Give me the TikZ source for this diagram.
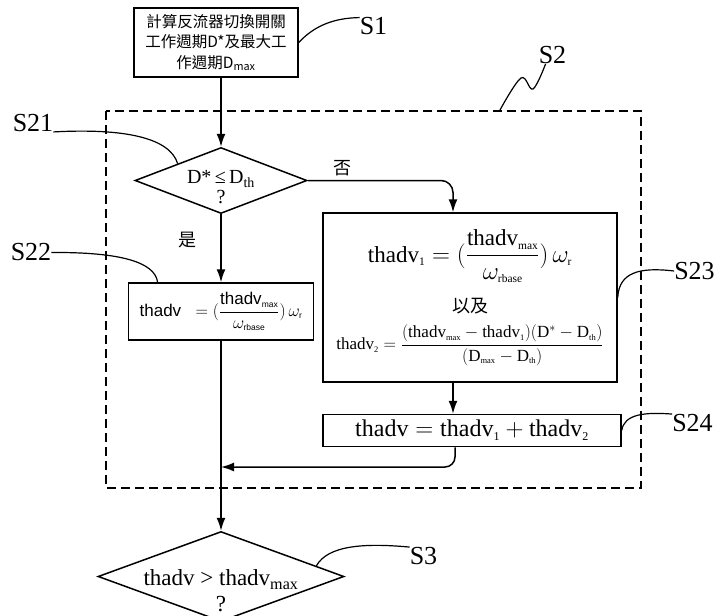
\documentclass[tikz,border=0pt]{standalone}
\usepackage{amsmath}
\usepackage{fontspec}
\setmainfont{Liberation Serif}
\newfontfamily\cjk{Noto Sans CJK TC}
\newfontfamily\sansfont{Liberation Sans}
\usepackage{tikz}
\usetikzlibrary{
    arrows.meta,
    positioning,
    shapes.geometric,
    calc
}
\newcommand{\lo}[1]{_{\scriptscriptstyle\text{#1}}}

\begin{document}
\begin{tikzpicture}[
    x=1pt, y=-1pt,
    box/.style={
        draw,
        line width=1.5pt,
        inner sep=0pt,
        align=center
    },
    decision/.style={
        draw,
        diamond,
        line width=1.5pt,
        inner sep=0pt
    },
    qtext/.style={
        align=center,
        inner sep=0pt,
        font=\fontsize{20}{20}\selectfont
    },
    flow/.style={-{Latex[length=13pt, width=9pt]}, line width=1.5pt},
    lead/.style={line width=1.2pt},
    group/.style={line width=1.2pt, dash pattern=on 9pt off 5pt},
    steplbl/.style={inner sep=0pt, font=\fontsize{26}{26}\selectfont},
    yesno/.style={inner sep=0pt, font=\cjk\fontsize{18}{18}\selectfont}
]

\useasboundingbox (0,0) rectangle (718,616);

\node[box, minimum width=164pt, minimum height=69pt,
font=\cjk\fontsize{15.5}{20.5}\selectfont] (calc) at (216,42.5)
{計算反流器切換開關\\工作週期D*及最大工\\作週期D\textsubscript{max}};

\node[decision, minimum width=172pt, minimum height=66pt,
below=69pt of calc, xshift=5pt,
label={[qtext, yshift=-7pt]center:{D*\,≤\,D\textsubscript{th}\\?}}] (cmp) {};

\node[box, minimum width=185pt, minimum height=57pt,
below=68pt of cmp, font=\sansfont\fontsize{17}{19}\selectfont] (fixed)
{$\text{thadv}\;\; = (\dfrac{\text{thadv}\lo{max}}{\omega\lo{rbase}})\,\omega\lo{r}$};

\node[box, minimum width=294pt, minimum height=169pt] (split) at (470,297.5)
{{\fontsize{23}{26}\selectfont
$\text{thadv}\lo{1} = (\dfrac{\text{thadv}\lo{max}}{\omega\lo{rbase}})\,\omega\lo{r}$}\\[14pt]
{\cjk\fontsize{18}{20}\selectfont 以及}\\[10pt]
{\fontsize{17}{20}\selectfont
$\text{thadv}\lo{2} = \dfrac{(\text{thadv}\lo{max} - \text{thadv}\lo{1})(\text{D}^{*} - \text{D}\lo{th})}{(\text{D}\lo{max} - \text{D}\lo{th})}$}};

\node[box, minimum width=298pt, minimum height=32pt,
below=31pt of split, xshift=2pt, font=\fontsize{24}{24}\selectfont] (sum)
{$\text{thadv} = \text{thadv}\lo{1} + \text{thadv}\lo{2}$};

\node[decision, minimum width=246pt, minimum height=90pt,
below=190pt of fixed,
label={[qtext, font=\fontsize{23}{26}\selectfont, yshift=-14pt]center:{thadv > thadv\textsubscript{max}\\?}}] (limit) {};

\draw[group] (106,111) rectangle (641,488);

\node[steplbl] (tagS1) at (373.5,26.5) {S1};
\node[steplbl] (tagS2) at (552.5,55) {S2};
\node[steplbl] (tagS21) at (33,123) {S21};
\node[steplbl] (tagS22) at (31,252.5) {S22};
\node[steplbl] (tagS23) at (694.5,271) {S23};
\node[steplbl] (tagS24) at (692.5,423) {S24};
\node[steplbl] (tagS3) at (423.5,556) {S3};

\coordinate (noTop) at ([xshift=-17pt]split.north);
\coordinate (noBot) at ([xshift=-17pt]split.south);
\coordinate (sumOut) at ([xshift=-17pt]sum.south);
\coordinate (join) at (221,467);
\coordinate (s2foot) at (500,110);
\coordinate (s2top) at ([xshift=7pt]tagS2.south west);

\draw[flow] (cmp.north |- calc.south) -- (cmp.north);
\draw[flow] (cmp.south) -- node[yesno, left=24pt, pos=0.38]{是} (fixed.north);
\draw[flow, rounded corners=12pt] (cmp.east) -| node[yesno, above=4pt, pos=0.12]{否} (noTop);
\draw[flow] (noBot) -- (noBot |- sum.north);
\draw[flow, rounded corners=10pt] (sumOut) |- (join);
\draw[flow] (fixed.south) -- (limit.north);

\draw[lead] (calc.east) .. controls (315,25) and (335,18) .. (tagS1.north west);
\draw[lead] plot[smooth, tension=0.6] coordinates {(s2foot) (521,78) (533,89) (s2top)};
\draw[lead] (tagS21.south east) .. controls (125,128) and (170,138) .. (cmp.north west);
\draw[lead] (tagS22.east) .. controls (120,252) and (155,262) .. ($(fixed.north west)!0.16!(fixed.north east)$);
\draw[lead] (split.east) .. controls (619,272) and (640,267) .. (tagS23.west);
\draw[lead] (sum.east) .. controls (624,414) and (645,412) .. (tagS24.north west);
\draw[lead] ($(limit.north)!0.77!(limit.east)$) .. controls (328,545) and (365,543) .. (tagS3.north west);

\end{tikzpicture}
\end{document}
